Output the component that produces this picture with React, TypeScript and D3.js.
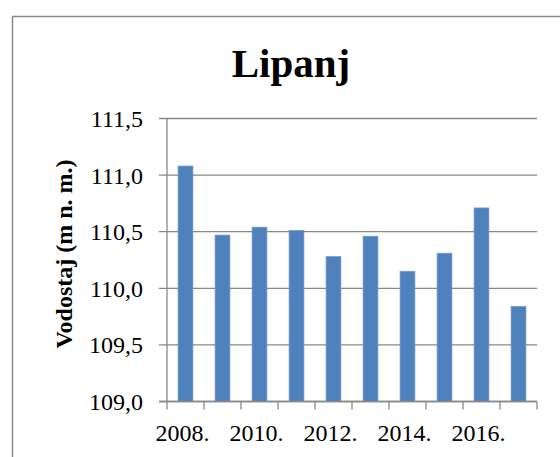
import React from 'react';
import { scaleBand, scaleLinear, format } from 'd3';

// Vodostaj u lipnju po godinama
const years = ['2008', '2009', '2010', '2011', '2012', '2013', '2014', '2015', '2016', '2017'];
const levels = [111.08, 110.47, 110.54, 110.51, 110.28, 110.46, 110.15, 110.31, 110.71, 109.84];
const labelledYears = ['2008', '2010', '2012', '2014', '2016'];
const yTicks = [109.0, 109.5, 110.0, 110.5, 111.0, 111.5];

const title = 'Lipanj';
const yTitle = 'Vodostaj (m n. m.)';

const App = () => {
    const width = 560;
    const height = 457;
    const plot = { left: 167, right: 537, top: 118.5, bottom: 401.5 };
    const font = 'Liberation Serif';
    const grid = '#898989';

    const xScale = scaleBand()
        .domain(years)
        .range([plot.left, plot.right])
        .padding(0);
    const barWidth = xScale.bandwidth() / 2.5; // gap width 150%

    const yScale = scaleLinear()
        .domain([109, 111.5])
        .range([plot.bottom, plot.top]);

    const fmt = (v: number) => format('.1f')(v).replace('.', ',');

    return (
        <svg
            width={width}
            height={height}
            fontFamily={font}
            style={{ position: 'absolute', left: 0, top: 0, background: '#fff' }}
        >
            {/* chart area frame, cut off at the right and bottom */}
            <rect x={12.5} y={16.5} width={600} height={600} fill="#fff" stroke="#8a8a8a" strokeWidth={1.5} />

            <text x={291} y={77} textAnchor="middle" fontWeight="bold" fontSize={41} fill="#000">
                {title}
            </text>

            {/* gridlines + y ticks */}
            {yTicks.map(t => (
                <g key={t}>
                    <line x1={plot.left - 8} x2={plot.right} y1={yScale(t)} y2={yScale(t)} stroke={grid} strokeWidth={1.3} />
                    <text x={plot.left - 24} y={yScale(t)} dy="0.35em" textAnchor="end" fontSize={24} fill="#000">
                        {fmt(t)}
                    </text>
                </g>
            ))}

            {/* bars */}
            {years.map((y, i) => (
                <rect
                    key={y}
                    x={xScale(y)! + (xScale.bandwidth() - barWidth) / 2}
                    y={yScale(levels[i])}
                    width={barWidth}
                    height={yScale(109) - yScale(levels[i])}
                    fill="#4f81bd"
                    stroke="#6f98cc"
                    strokeWidth={0.75}
                />
            ))}

            {/* axes */}
            <line x1={plot.left} x2={plot.left} y1={plot.top} y2={plot.bottom} stroke={grid} strokeWidth={1.3} />
            <line x1={plot.left - 8} x2={plot.right} y1={plot.bottom} y2={plot.bottom} stroke={grid} strokeWidth={1.3} />
            {years.concat(['end']).map((y, i) => {
                const x = plot.left + i * xScale.step();
                return <line key={y} x1={x} x2={x} y1={plot.bottom} y2={plot.bottom + 8} stroke={grid} strokeWidth={1.3} />;
            })}
            {labelledYears.map(y => (
                <text key={y} x={xScale(y)! + xScale.bandwidth() / 2 - 3} y={441} textAnchor="middle" fontSize={24} fill="#000">
                    {y + '.'}
                </text>
            ))}

            <text
                transform={`translate(72, 254) rotate(-90)`}
                textAnchor="middle"
                fontWeight="bold"
                fontSize={24}
                fill="#000"
            >
                {yTitle}
            </text>
        </svg>
    );
};

export default App;
